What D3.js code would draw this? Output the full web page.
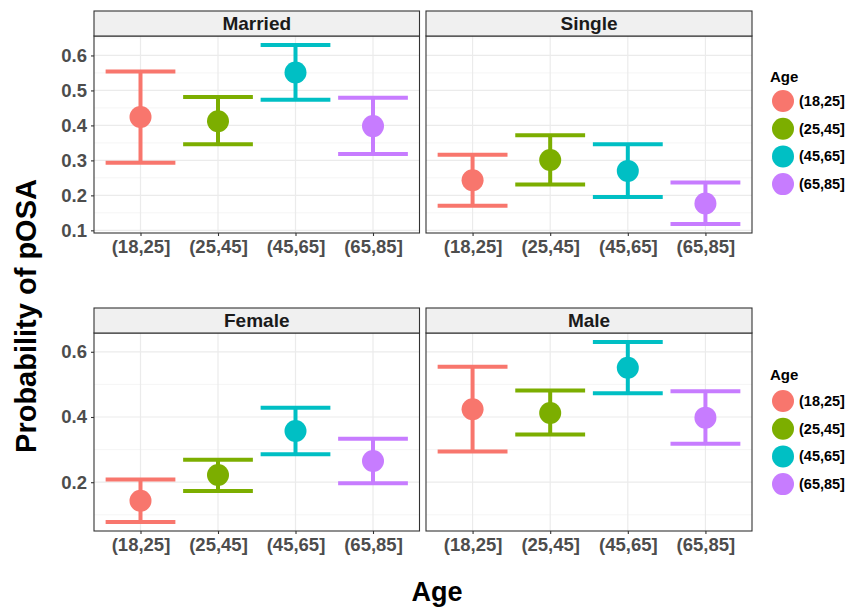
<!DOCTYPE html>
<html>
<head>
<meta charset="utf-8">
<script src="https://cdn.jsdelivr.net/npm/d3@7"></script>
<style>
  body { margin: 0; background: #fff; }
  text { font-family: "Liberation Sans", Arial, sans-serif; }
</style>
</head>
<body>
<script>
// Data
const ageGroups = ["(18,25]", "(25,45]", "(45,65]", "(65,85]"];
const ageColors = ["#F8766D", "#7CAE00", "#00BFC4", "#C77CFF"];

const marriedProb  = [0.424, 0.412, 0.551, 0.398];
const marriedLower = [0.293, 0.346, 0.473, 0.318];
const marriedUpper = [0.554, 0.481, 0.630, 0.479];

const singleProb  = [0.243, 0.301, 0.270, 0.177];
const singleLower = [0.170, 0.231, 0.195, 0.118];
const singleUpper = [0.316, 0.372, 0.346, 0.237];

const femaleProb  = [0.143, 0.222, 0.357, 0.265];
const femaleLower = [0.078, 0.173, 0.286, 0.197];
const femaleUpper = [0.208, 0.269, 0.428, 0.333];

const maleProb  = [0.424, 0.412, 0.551, 0.398];
const maleLower = [0.294, 0.346, 0.473, 0.318];
const maleUpper = [0.554, 0.481, 0.630, 0.479];

const topTicks = [0.1, 0.2, 0.3, 0.4, 0.5, 0.6];
const topMinor = [0.15, 0.25, 0.35, 0.45, 0.55, 0.65];
const bottomTicks = [0.2, 0.4, 0.6];
const bottomMinor = [0.1, 0.3, 0.5];

function rows(probs, lows, highs) {
    return ageGroups.map((a, i) => ({age: a, p: probs[i], lo: lows[i], hi: highs[i]}));
}

const width = 850;
const height = 612;

var svg = d3.select("body").append("svg")
    .attr("width", width)
    .attr("height", height);

const color = d3.scaleOrdinal().domain(ageGroups).range(ageColors);

const panelX = [[94, 419.5], [426, 752]];

function drawRow(top, facets, ticks, minor) {
    // shared y scale for the row, ggplot style 5% expansion
    const all = facets.flatMap(f => f.data.flatMap(d => [d.lo, d.hi]));
    const lo = d3.min(all), hi = d3.max(all);
    const pad = (hi - lo) * 0.05;
    const yscale = d3.scaleLinear()
        .domain([lo - pad, hi + pad])
        .range([top.panelBottom, top.panelTop]);

    facets.forEach((f, k) => {
        const [x0, x1] = panelX[k];
        const xscale = d3.scalePoint()
            .domain(ageGroups)
            .range([x0, x1])
            .padding(0.6);
        const half = xscale.step() * 0.45;
        const g = svg.append("g");

        g.append("rect")
            .attr("x", x0).attr("y", top.panelTop)
            .attr("width", x1 - x0).attr("height", top.panelBottom - top.panelTop)
            .attr("fill", "#fff");

        // grid
        g.selectAll(".minor").data(minor).enter().append("line")
            .attr("x1", x0).attr("x2", x1)
            .attr("y1", d => yscale(d)).attr("y2", d => yscale(d))
            .attr("stroke", "#f2f2f2").attr("stroke-width", 0.8);
        g.selectAll(".major").data(ticks).enter().append("line")
            .attr("x1", x0).attr("x2", x1)
            .attr("y1", d => yscale(d)).attr("y2", d => yscale(d))
            .attr("stroke", "#ebebeb").attr("stroke-width", 1.2);
        g.selectAll(".vmajor").data(ageGroups).enter().append("line")
            .attr("x1", d => xscale(d)).attr("x2", d => xscale(d))
            .attr("y1", top.panelTop).attr("y2", top.panelBottom)
            .attr("stroke", "#ebebeb").attr("stroke-width", 1.2);

        // error bars
        const eb = g.selectAll(".eb").data(f.data).enter().append("g");
        eb.append("line")
            .attr("x1", d => xscale(d.age)).attr("x2", d => xscale(d.age))
            .attr("y1", d => yscale(d.lo)).attr("y2", d => yscale(d.hi))
            .attr("stroke", d => color(d.age)).attr("stroke-width", 4);
        eb.append("line")
            .attr("x1", d => xscale(d.age) - half).attr("x2", d => xscale(d.age) + half)
            .attr("y1", d => yscale(d.lo)).attr("y2", d => yscale(d.lo))
            .attr("stroke", d => color(d.age)).attr("stroke-width", 4);
        eb.append("line")
            .attr("x1", d => xscale(d.age) - half).attr("x2", d => xscale(d.age) + half)
            .attr("y1", d => yscale(d.hi)).attr("y2", d => yscale(d.hi))
            .attr("stroke", d => color(d.age)).attr("stroke-width", 4);
        eb.append("circle")
            .attr("cx", d => xscale(d.age))
            .attr("cy", d => yscale(d.p))
            .attr("r", 11)
            .attr("fill", d => color(d.age));

        // border
        g.append("rect")
            .attr("x", x0).attr("y", top.panelTop)
            .attr("width", x1 - x0).attr("height", top.panelBottom - top.panelTop)
            .attr("fill", "none").attr("stroke", "#333").attr("stroke-width", 1.1);

        // strip
        g.append("rect")
            .attr("x", x0).attr("y", top.strip)
            .attr("width", x1 - x0).attr("height", top.panelTop - top.strip)
            .attr("fill", "#f0f0f0").attr("stroke", "#333").attr("stroke-width", 1.1);
        g.append("text")
            .attr("x", (x0 + x1) / 2).attr("y", (top.strip + top.panelTop) / 2)
            .attr("dy", "0.35em")
            .attr("text-anchor", "middle")
            .attr("font-size", 19).attr("font-weight", "bold")
            .attr("fill", "#1a1a1a")
            .text(f.name);

        // x axis
        const xaxis = d3.axisBottom(xscale).tickSize(3).tickPadding(4);
        const xg = g.append("g")
            .attr("transform", `translate(0, ${top.panelBottom})`)
            .call(xaxis);
        xg.select(".domain").remove();
        xg.selectAll("line").attr("stroke", "#333").attr("stroke-width", 1.1);
        xg.selectAll("text")
            .attr("font-size", 18.5).attr("font-weight", "bold")
            .attr("fill", "#4d4d4d")
            .attr("font-family", "Liberation Sans, Arial, sans-serif");

        // y axis only on the left panel
        if (k === 0) {
            const yaxis = d3.axisLeft(yscale).tickValues(ticks)
                .tickFormat(d3.format(".1f")).tickSize(3).tickPadding(4);
            const yg = g.append("g")
                .attr("transform", `translate(${x0}, 0)`)
                .call(yaxis);
            yg.select(".domain").remove();
            yg.selectAll("line").attr("stroke", "#333").attr("stroke-width", 1.1);
            yg.selectAll("text")
                .attr("font-size", 18.5).attr("font-weight", "bold")
                .attr("fill", "#4d4d4d")
                .attr("font-family", "Liberation Sans, Arial, sans-serif");
        }
    });
}

function drawLegend(titleY, firstY) {
    const lg = svg.append("g");
    lg.append("text")
        .attr("x", 770).attr("y", titleY)
        .attr("dy", "0.35em")
        .attr("font-size", 15).attr("font-weight", "bold")
        .attr("fill", "#000")
        .text("Age");
    const item = lg.selectAll(".item").data(ageGroups).enter().append("g")
        .attr("transform", (d, i) => `translate(783, ${firstY + i * 27.7})`);
    item.append("circle")
        .attr("r", 11)
        .attr("fill", d => color(d));
    item.append("text")
        .attr("x", 16).attr("dy", "0.35em")
        .attr("font-size", 14.5).attr("font-weight", "bold")
        .attr("fill", "#000")
        .text(d => d);
}

drawRow({strip: 11, panelTop: 36, panelBottom: 233},
    [{name: "Married", data: rows(marriedProb, marriedLower, marriedUpper)},
     {name: "Single", data: rows(singleProb, singleLower, singleUpper)}],
    topTicks, topMinor);

drawRow({strip: 308, panelTop: 333, panelBottom: 531},
    [{name: "Female", data: rows(femaleProb, femaleLower, femaleUpper)},
     {name: "Male", data: rows(maleProb, maleLower, maleUpper)}],
    bottomTicks, bottomMinor);

drawLegend(77, 101);
drawLegend(375, 401);

// axis titles
svg.append("text")
    .attr("transform", "translate(36, 316) rotate(-90)")
    .attr("text-anchor", "middle")
    .attr("font-size", 29).attr("font-weight", "bold")
    .attr("fill", "#000")
    .text("Probability of pOSA");

svg.append("text")
    .attr("x", 437).attr("y", 592)
    .attr("dy", "0.35em")
    .attr("text-anchor", "middle")
    .attr("font-size", 27).attr("font-weight", "bold")
    .attr("fill", "#000")
    .text("Age");
</script>
</body>
</html>
